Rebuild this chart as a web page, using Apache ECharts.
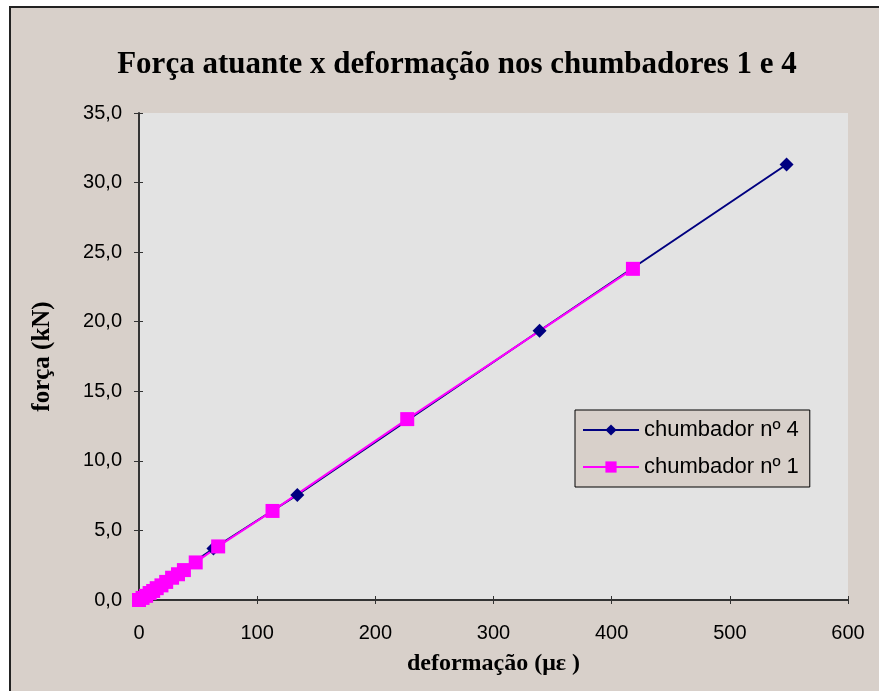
<!DOCTYPE html>
<html>
<head>
<meta charset="utf-8">
<script src="https://cdn.jsdelivr.net/npm/echarts@6/dist/echarts.min.js"></script>
<style>
html,body{margin:0;padding:0;background:#fff;width:879px;height:691px;overflow:hidden;}
#bg{position:absolute;left:9px;top:6px;width:880px;height:700px;background:#D8D0CA;border-top:2px solid #222;border-left:2px solid #222;}
#chart{position:absolute;left:0;top:0;width:879px;height:691px;}
</style>
</head>
<body>
<div id="bg"></div>
<div id="chart"></div>
<script>
// Data
const titleText = 'Força atuante x deformação nos chumbadores 1 e 4';
const xName = 'deformação (με )';
const yName = 'força (kN)';
const seriesNames = ['chumbador nº 4', 'chumbador nº 1'];
const deform4 = [0, 63, 134, 339, 548];
const force4 = [0, 3.7, 7.55, 19.35, 31.3];
const deform1 = [0, 3, 6, 9, 12, 15, 19, 23, 28, 33, 38, 48, 67, 113, 227, 418];
const force1 = [0, 0.15, 0.3, 0.5, 0.65, 0.85, 1.05, 1.3, 1.6, 1.85, 2.15, 2.7, 3.85, 6.4, 13.0, 23.8];
const xTicks = {min: 0, max: 600, interval: 100};
const yTicks = {min: 0, max: 35, interval: 5};

const chart = echarts.init(document.getElementById('chart'));
const serif = '"Liberation Serif", "Times New Roman", serif';
const sans = '"Liberation Sans", Arial, sans-serif';
const pair = (xs, ys) => xs.map((x, i) => [x, ys[i]]);

chart.setOption({
  backgroundColor: 'transparent',
  animation: false,
  title: {
    text: titleText, left: 452, top: 44, textAlign: 'center',
    textStyle: {fontFamily: serif, fontWeight: 'bold', fontSize: 31, color: '#000'}
  },
  legend: {
    orient: 'vertical', left: 575, top: 410,
    padding: [9, 11, 9, 7], itemGap: 15, itemWidth: 56, itemHeight: 14,
    backgroundColor: '#D8D0CA', borderColor: '#000', borderWidth: 1,
    textStyle: {fontFamily: sans, fontSize: 22, color: '#000'},
    data: seriesNames
  },
  grid: {left: 139, right: 31, top: 113, bottom: 91, show: true, backgroundColor: '#E3E3E3', borderWidth: 0},
  xAxis: [{
    type: 'value', min: xTicks.min, max: xTicks.max, interval: xTicks.interval,
    name: xName, nameLocation: 'middle', nameGap: 52,
    nameTextStyle: {fontFamily: serif, fontWeight: 'bold', fontSize: 24, color: '#000'},
    axisLine: {show: true, lineStyle: {color: '#333', width: 2}},
    axisTick: {show: true, length: 4, lineStyle: {color: '#333'}},
    axisLabel: {fontFamily: sans, fontSize: 20, color: '#000', margin: 23},
    splitLine: {show: false}
  }, {
    type: 'value', min: xTicks.min, max: xTicks.max, interval: xTicks.interval, position: 'bottom',
    axisLine: {show: false}, axisTick: {show: true, inside: true, length: 4, lineStyle: {color: '#333'}},
    axisLabel: {show: false}, splitLine: {show: false}
  }],
  yAxis: [{
    type: 'value', min: yTicks.min, max: yTicks.max, interval: yTicks.interval,
    name: yName, nameLocation: 'middle', nameGap: 84,
    nameTextStyle: {fontFamily: serif, fontWeight: 'bold', fontSize: 25, color: '#000'},
    axisLine: {show: true, lineStyle: {color: '#333', width: 2}},
    axisTick: {show: true, length: 5, lineStyle: {color: '#333'}},
    axisLabel: {fontFamily: sans, fontSize: 20, color: '#000', margin: 17,
      formatter: v => v.toFixed(1).replace('.', ',')},
    splitLine: {show: false}
  }, {
    type: 'value', min: yTicks.min, max: yTicks.max, interval: yTicks.interval, position: 'left',
    axisLine: {show: false}, axisTick: {show: true, inside: true, length: 4, lineStyle: {color: '#333'}},
    axisLabel: {show: false}, splitLine: {show: false}
  }],
  series: [{
    name: seriesNames[0], type: 'line', data: pair(deform4, force4),
    symbol: 'diamond', symbolSize: 14,
    lineStyle: {color: '#000080', width: 2},
    itemStyle: {color: '#000080'}
  }, {
    name: seriesNames[1], type: 'line', data: pair(deform1, force1),
    symbol: 'rect', symbolSize: 14,
    lineStyle: {color: '#FF00FF', width: 2},
    itemStyle: {color: '#FF00FF'}
  }]
});
</script>
</body>
</html>
